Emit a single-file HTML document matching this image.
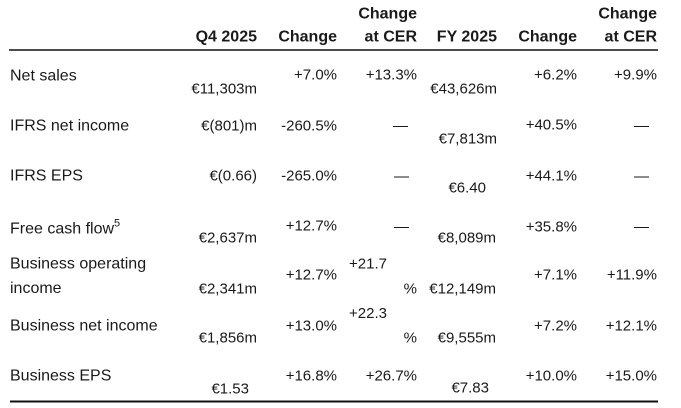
<!DOCTYPE html>
<html>
<head>
<meta charset="utf-8">
<style>
  html, body { margin: 0; padding: 0; background: #ffffff; }
  body { width: 681px; height: 408px; overflow: hidden; }
  svg { display: block; }
  text { font-family: "Liberation Sans", "DejaVu Sans", sans-serif; font-size: 15px; fill: #1a1a1a; }
  .h { font-weight: bold; font-size: 16px; }
  .r { text-anchor: end; }
  .l { font-size: 16px; }
</style>
</head>
<body>
<svg width="681" height="408" viewBox="0 0 681 408" xmlns="http://www.w3.org/2000/svg">
  <!-- Header -->
  <text class="h r" x="417" y="18.5">Change</text>
  <text class="h r" x="657" y="18.5">Change</text>
  <text class="h r" x="257" y="41.5">Q4 2025</text>
  <text class="h r" x="337" y="41.5">Change</text>
  <text class="h r" x="417" y="41.5">at CER</text>
  <text class="h r" x="497" y="41.5">FY 2025</text>
  <text class="h r" x="577" y="41.5">Change</text>
  <text class="h r" x="657" y="41.5">at CER</text>
  <line x1="9" y1="50" x2="658" y2="50" stroke="#111" stroke-width="1.6"/>

  <!-- Net sales -->
  <text class="l" x="10" y="80.5">Net sales</text>
  <text class="r" x="257" y="93.5">€11,303m</text>
  <text class="r" x="337" y="79.5">+7.0%</text>
  <text class="r" x="417" y="79.5">+13.3%</text>
  <text class="r" x="497" y="93.5">€43,626m</text>
  <text class="r" x="577" y="79.5">+6.2%</text>
  <text class="r" x="657" y="79.5">+9.9%</text>

  <!-- IFRS net income -->
  <text class="l" x="10" y="130.5">IFRS net income</text>
  <text class="r" x="257" y="130.5">€(801)m</text>
  <text class="r" x="337" y="130.5">-260.5%</text>
  <text x="393" y="130.5">—</text>
  <text class="r" x="497" y="143.5">€7,813m</text>
  <text class="r" x="577" y="129.5">+40.5%</text>
  <text x="634" y="130.5">—</text>

  <!-- IFRS EPS -->
  <text class="l" x="10" y="180.5">IFRS EPS</text>
  <text class="r" x="257" y="180.5">€(0.66)</text>
  <text class="r" x="337" y="180.5">-265.0%</text>
  <text x="394" y="181">—</text>
  <text class="r" x="486" y="192.5">€6.40</text>
  <text class="r" x="577" y="180.5">+44.1%</text>
  <text x="634" y="181">—</text>

  <!-- Free cash flow -->
  <text class="l" x="10" y="233.5">Free cash flow<tspan font-size="11" dy="-7">5</tspan></text>
  <text class="r" x="257" y="242.5">€2,637m</text>
  <text class="r" x="337" y="230.5">+12.7%</text>
  <text x="394" y="231.5">—</text>
  <text class="r" x="496" y="242.5">€8,089m</text>
  <text class="r" x="577" y="231.5">+35.8%</text>
  <text x="634" y="231.5">—</text>

  <!-- Business operating income -->
  <text class="l" x="10" y="268.5">Business operating</text>
  <text class="l" x="10" y="293">income</text>
  <text class="r" x="257" y="293.5">€2,341m</text>
  <text class="r" x="337" y="279.5">+12.7%</text>
  <text class="r" x="387" y="268.5">+21.7</text>
  <text class="r" x="417" y="293.5">%</text>
  <text class="r" x="496" y="293.5">€12,149m</text>
  <text class="r" x="577" y="279.5">+7.1%</text>
  <text class="r" x="657" y="279.5">+11.9%</text>

  <!-- Business net income -->
  <text class="l" x="10" y="330.5">Business net income</text>
  <text class="r" x="257" y="342.5">€1,856m</text>
  <text class="r" x="337" y="330.5">+13.0%</text>
  <text class="r" x="387" y="318">+22.3</text>
  <text class="r" x="417" y="342.5">%</text>
  <text class="r" x="496" y="342.5">€9,555m</text>
  <text class="r" x="577" y="330.5">+7.2%</text>
  <text class="r" x="657" y="330.5">+12.1%</text>

  <!-- Business EPS -->
  <text class="l" x="10" y="380.5">Business EPS</text>
  <text class="r" x="249" y="393.5">€1.53</text>
  <text class="r" x="337" y="380.5">+16.8%</text>
  <text class="r" x="417" y="380.5">+26.7%</text>
  <text class="r" x="489" y="392.5">€7.83</text>
  <text class="r" x="577" y="380.5">+10.0%</text>
  <text class="r" x="657" y="380.5">+15.0%</text>

  <line x1="10" y1="401.5" x2="658" y2="401.5" stroke="#111" stroke-width="2"/>
</svg>
</body>
</html>
